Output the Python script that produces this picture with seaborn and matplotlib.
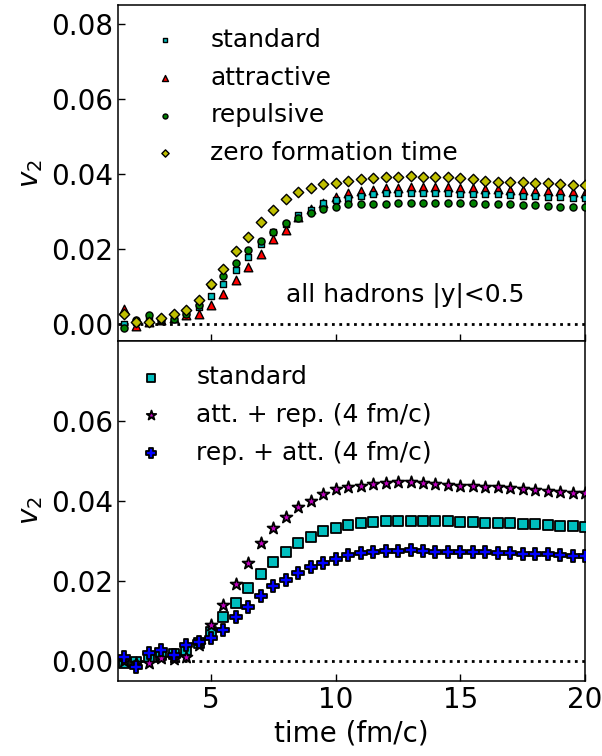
import numpy as np
import pandas as pd
import matplotlib
matplotlib.use("Agg")
import matplotlib.pyplot as plt
import seaborn as sns

# ---------------- data ----------------
time = [1.5 + 0.5 * i for i in range(38)]

top_standard = [0.0, 0.0005, 0.001, 0.001, 0.002, 0.003, 0.0046, 0.0075, 0.0107, 0.0144,
                0.0180, 0.0213, 0.0246, 0.0268, 0.0291, 0.0304, 0.0322, 0.0331,
                0.0335, 0.0341, 0.0347, 0.0349, 0.0349, 0.0349, 0.0349, 0.0349, 0.0349,
                0.0347, 0.0347, 0.0346, 0.0346, 0.0344, 0.0342, 0.0341, 0.0339, 0.0338,
                0.0336, 0.0335]
top_attractive = [0.0039, -0.0005, 0.0005, 0.001, 0.0015, 0.0024, 0.0027, 0.0051, 0.008,
                  0.0117, 0.0151, 0.0188, 0.0226, 0.0252, 0.0286, 0.0308, 0.0324, 0.0340,
                  0.0350, 0.0354, 0.0357, 0.0362, 0.0364, 0.0366, 0.0366, 0.0366, 0.0366,
                  0.0364, 0.0362, 0.0360, 0.0359, 0.0357, 0.0357, 0.0355, 0.0355, 0.0354,
                  0.0352, 0.0350]
top_repulsive = [-0.001, 0.001, 0.0024, 0.0012, 0.0014, 0.0027, 0.0051, 0.0104, 0.0128,
                 0.0162, 0.0197, 0.0222, 0.0246, 0.0270, 0.0282, 0.0295, 0.0306, 0.0311,
                 0.0319, 0.0320, 0.0320, 0.0320, 0.0322, 0.0322, 0.0323, 0.0322, 0.0322,
                 0.0322, 0.0322, 0.0320, 0.0320, 0.0319, 0.0318, 0.0318, 0.0316, 0.0313,
                 0.0311, 0.0311]
top_zero = [0.0026, 0.0005, 0.0005, 0.0015, 0.0026, 0.0037, 0.0064, 0.0106, 0.0146, 0.0196,
            0.0233, 0.0273, 0.0304, 0.0333, 0.0353, 0.0364, 0.0373, 0.0376,
            0.0382, 0.0387, 0.0390, 0.0393, 0.0393, 0.0395, 0.0393, 0.0393, 0.0393,
            0.0389, 0.0386, 0.0382, 0.0380, 0.0378, 0.0378, 0.0377, 0.0376, 0.0373,
            0.0372, 0.0370]

bot_standard = [-0.0006, -0.0002, 0.0009, 0.0015, 0.0017, 0.0028, 0.0044, 0.0073, 0.0109,
                0.0144, 0.0183, 0.0217, 0.0248, 0.0273, 0.0294, 0.0309, 0.0325, 0.0333,
                0.0340, 0.0344, 0.0347, 0.0350, 0.0351, 0.0351, 0.0351, 0.0351, 0.0350,
                0.0348, 0.0348, 0.0346, 0.0344, 0.0344, 0.0343, 0.0342, 0.0340, 0.0338,
                0.0338, 0.0336]
bot_att_rep = [0.0, -0.0005, -0.0004, 0.0007, 0.0005, 0.0009, 0.0040, 0.0090, 0.0140,
               0.0192, 0.0244, 0.0296, 0.0333, 0.0361, 0.0384, 0.0401, 0.0418, 0.0430,
               0.0436, 0.0438, 0.0443, 0.0444, 0.0447, 0.0447, 0.0444, 0.0443, 0.0440,
               0.0438, 0.0438, 0.0436, 0.0434, 0.0432, 0.0430, 0.0428, 0.0426, 0.0423,
               0.0421, 0.0419]
bot_rep_att = [0.0011, -0.0014, 0.0019, 0.0028, 0.0015, 0.0040, 0.0047, 0.0057, 0.0078,
               0.0111, 0.0136, 0.0163, 0.0188, 0.0203, 0.0219, 0.0234, 0.0244, 0.0254,
               0.0265, 0.0269, 0.0273, 0.0275, 0.0276, 0.0278, 0.0275, 0.0273, 0.0273,
               0.0273, 0.0273, 0.0273, 0.0271, 0.0269, 0.0268, 0.0267, 0.0267, 0.0265,
               0.0263, 0.0263]

top_labels = ["standard", "attractive", "repulsive", "zero formation time"]
bot_labels = ["standard", "att. + rep. (4 fm/c)", "rep. + att. (4 fm/c)"]
top_yticks = [0.00, 0.02, 0.04, 0.06, 0.08]
bot_yticks = [0.00, 0.02, 0.04, 0.06]
x_ticks = [5, 10, 15, 20]
annotation = "all hadrons |y|<0.5"

# ---------------- style ----------------
sns.set_style("ticks")
plt.rcParams["font.family"] = ["DejaVu Sans"]
plt.rcParams["mathtext.fontset"] = "dejavusans"
for key in ("text.color", "axes.labelcolor", "xtick.color", "ytick.color", "axes.edgecolor"):
    plt.rcParams[key] = "black"

fig = plt.figure(figsize=(6.02, 7.56), dpi=100)
ax1 = fig.add_axes([0.196, 0.549, 0.776, 0.444])
ax2 = fig.add_axes([0.196, 0.0992, 0.776, 0.4498], sharex=ax1)

top_df = pd.DataFrame({"time": time, top_labels[0]: top_standard, top_labels[1]: top_attractive,
                       top_labels[2]: top_repulsive, top_labels[3]: top_zero})
bot_df = pd.DataFrame({"time": time, bot_labels[0]: bot_standard, bot_labels[1]: bot_att_rep,
                       bot_labels[2]: bot_rep_att})

top_styles = [
    (top_labels[0], "s", "c", 24, 3),
    (top_labels[1], "^", "r", 38, 2),
    (top_labels[2], "o", "g", 26, 3),
    (top_labels[3], "D", "y", 28, 4),
]
for lab, mk, col, s, z in top_styles:
    sns.scatterplot(data=top_df, x="time", y=lab, ax=ax1, marker=mk, color=col, s=s,
                    edgecolor="k", linewidth=1.0, label=lab, zorder=z)

bot_styles = [
    (bot_labels[0], "s", "c", 55, 3),
    (bot_labels[1], "*", "m", 80, 4),
    (bot_labels[2], "P", "b", 80, 5),
]
for lab, mk, col, s, z in bot_styles:
    sns.scatterplot(data=bot_df, x="time", y=lab, ax=ax2, marker=mk, color=col, s=s,
                    edgecolor="k", linewidth=1.3, label=lab, zorder=z)

for ax in (ax1, ax2):
    ax.axhline(0, color="k", ls=":", lw=2.0, zorder=1)
    ax.set_xlim(1.27, 20)
    ax.tick_params(direction="in", length=5, width=1.0, labelsize=20,
                   top=False, right=False, colors="black")
    for sp in ax.spines.values():
        sp.set_linewidth(1.1)
        sp.set_color("black")
        sp.set_visible(True)
    ax.set_ylabel("$v_2$", fontsize=20, color="black")

ax1.set_ylim(-0.0045, 0.085)
ax1.set_yticks(top_yticks)
ax1.set_yticklabels([f"{v:.2f}" for v in top_yticks])
ax1.tick_params(labelbottom=False)
ax1.set_xlabel("")
ax1.text(8.0, 0.0075, annotation, fontsize=18, va="center", ha="left", color="black")

ax2.set_ylim(-0.005, 0.08)
ax2.set_yticks(bot_yticks)
ax2.set_yticklabels([f"{v:.2f}" for v in bot_yticks])
ax2.set_xticks(x_ticks)
ax2.set_xticklabels([str(v) for v in x_ticks])
ax2.set_xlabel("time (fm/c)", fontsize=20, color="black")

ax1.legend(loc="upper left", frameon=False, fontsize=18, markerscale=0.7,
           labelspacing=0.55, handletextpad=0.8, labelcolor="black")
ax2.legend(loc="upper left", bbox_to_anchor=(-0.03, 0.995), frameon=False, fontsize=18,
           markerscale=0.8, labelspacing=0.55, handletextpad=0.8, labelcolor="black")

fig.savefig("out.png", dpi=100)
